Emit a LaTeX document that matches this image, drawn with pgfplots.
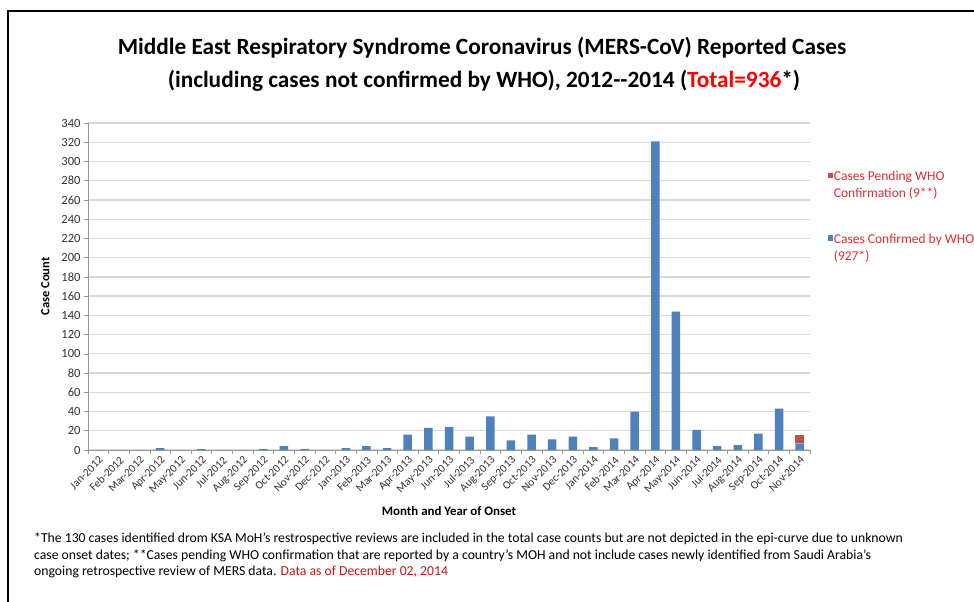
\documentclass[border=0pt]{standalone}
\usepackage{pgfplots}
\pgfplotsset{compat=1.18}
\usepackage{pgfplotstable}
\usepackage{fontspec}
\setmainfont{Carlito}
\definecolor{barblue}{RGB}{79,129,189}
\definecolor{barred}{RGB}{192,80,77}
\definecolor{legred}{RGB}{222,45,50}
\definecolor{titlered}{RGB}{255,0,0}
\definecolor{datared}{RGB}{200,20,20}
\definecolor{gridgray}{RGB}{217,217,217}
\definecolor{axgray}{RGB}{150,150,150}
\pgfplotstableread{
x month confirmed pending
0 Jan-2012 0 0
1 Feb-2012 0 0
2 Mar-2012 0 0
3 Apr-2012 2 0
4 May-2012 0 0
5 Jun-2012 1 0
6 Jul-2012 0 0
7 Aug-2012 0 0
8 Sep-2012 1 0
9 Oct-2012 4 0
10 Nov-2012 1 0
11 Dec-2012 0 0
12 Jan-2013 2 0
13 Feb-2013 4 0
14 Mar-2013 2 0
15 Apr-2013 16 0
16 May-2013 23 0
17 Jun-2013 24 0
18 Jul-2013 14 0
19 Aug-2013 35 0
20 Sep-2013 10 0
21 Oct-2013 16 0
22 Nov-2013 11 0
23 Dec-2013 14 0
24 Jan-2014 3 0
25 Feb-2014 12 0
26 Mar-2014 40 0
27 Apr-2014 321 0
28 May-2014 144 0
29 Jun-2014 21 0
30 Jul-2014 4 0
31 Aug-2014 5 0
32 Sep-2014 17 0
33 Oct-2014 43 0
34 Nov-2014 7 9
}\datatable
\begin{document}
\begin{tikzpicture}
\useasboundingbox (0,0) rectangle (974pt,602pt);
\fill[white] (0,0) rectangle (974pt,602pt);
\draw[line width=2.6pt] (8pt,-2pt) -- (8pt,591pt) -- (976pt,591pt);
\node[font=\fontsize{23.3}{26}\selectfont\bfseries] at (482pt,554pt)
  {Middle East Respiratory Syndrome Coronavirus (MERS-CoV) Reported Cases};
\node[font=\fontsize{23.3}{26}\selectfont\bfseries] at (484pt,521pt)
  {(including cases not confirmed by WHO), 2012-{}-2014 ({\color{titlered}Total=936}*)};
\begin{axis}[
  at={(88pt,152pt)}, anchor=south west,
  scale only axis, width=722pt, height=327pt,
  xmin=-0.5, xmax=34.5, ymin=0, ymax=340,
  ybar stacked, bar width=8.5pt,
  xtick={0,...,34},
  xticklabels from table={\datatable}{month},
  minor xtick={-0.5,0.5,...,34.5},
  ytick={0,20,...,340},
  axis x line=bottom, axis y line=left,
  axis line style={axgray,-, line width=0.8pt},
  tick align=outside,
  major tick length=4pt, minor tick length=4pt,
  x tick style={draw=none},
  minor x tick style={draw=axgray, line width=0.6pt},
  y tick style={draw=axgray, line width=0.6pt},
  ymajorgrids, grid style={gridgray, line width=1.3pt},
  /pgf/number format/assume math mode=true,
  y tick label style={font=\fontsize{12.5}{14}\selectfont, text=black!80},
  x tick label style={font=\fontsize{11.3}{13}\selectfont, text=black!80, rotate=45, anchor=north east, inner sep=1pt},
  xlabel={\textbf{Month and Year of Onset}},
  xlabel style={font=\fontsize{12.9}{14}\selectfont, at={(axis description cs:0.5,-0.187)}, anchor=center},
  ylabel={\textbf{Case Count}},
  ylabel style={font=\fontsize{12.5}{14}\selectfont, at={(axis description cs:-0.059,0.5)}, anchor=center, rotate=0},
  reverse legend,
  legend image code/.code={\fill[#1] (0pt,-2.6pt) rectangle (5.2pt,2.6pt);},
  legend style={at={(axis description cs:1.024,0.860)}, anchor=north west, draw=none, fill=none,
    font=\fontsize{13.5}{17}\selectfont, text=legred, row sep=49pt, inner sep=0pt,
    nodes={inner xsep=1.2pt, inner ysep=0pt}},
  legend cell align=left,
]
\addplot[fill=barblue, draw=none] table[x=x, y=confirmed]{\datatable};
\addlegendentry{\begin{tabular}[t]{@{}l@{}}Cases Confirmed by WHO\\(927*)\end{tabular}}
\addplot[fill=barred, draw=none] table[x=x, y=pending]{\datatable};
\addlegendentry{\begin{tabular}[t]{@{}l@{}}Cases Pending WHO\\Confirmation (9**)\end{tabular}}
\end{axis}
\node[anchor=north west, align=left, font=\fontsize{13.7}{16.5}\selectfont, inner sep=0pt] at (34pt,69pt)
{*The 130 cases identified drom KSA MoH's restrospective reviews are included in the total case counts but are not depicted in the epi-curve due to unknown\\
case onset dates; **Cases pending WHO confirmation that are reported by a country's MOH and not include cases newly identified from Saudi Arabia's\\
ongoing retrospective review of MERS data. {\color{datared}Data as of December 02, 2014}};
\end{tikzpicture}
\end{document}
